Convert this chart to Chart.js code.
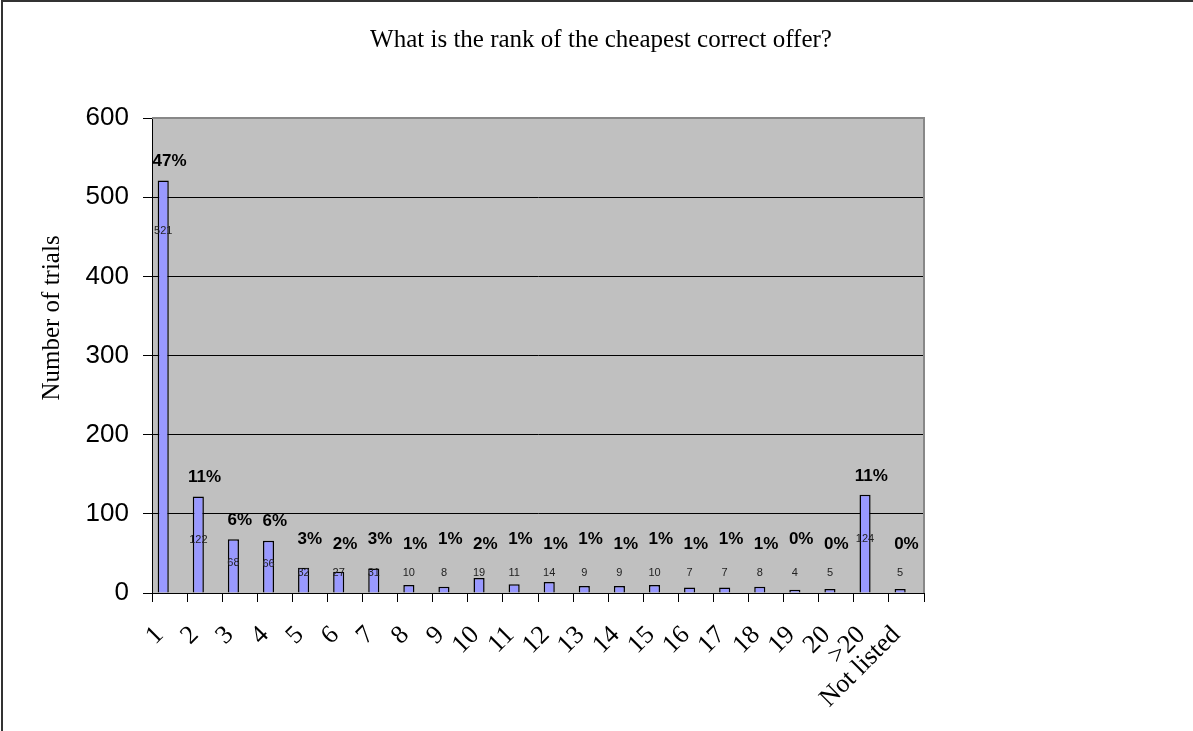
<!DOCTYPE html>
<html lang="en">
<head>
  <meta charset="UTF-8">
  <title>Rank of the cheapest correct offer</title>
  <script src="https://cdn.jsdelivr.net/npm/chart.js"></script>
  <style>
    body {
      margin: 0;
      background: #fff;
    }
    #wrap {
      width: 1193px;
      height: 731px;
    }
  </style>
</head>
<body>

  <div id="wrap"><canvas id="rank-chart" width="1193" height="731"></canvas></div>

  <script>
    const ranks = ['1', '2', '3', '4', '5', '6', '7', '8', '9', '10', '11', '12', '13', '14', '15', '16', '17', '18', '19', '20', '>20', 'Not listed'];
    const trials = [521, 122, 68, 66, 32, 27, 31, 10, 8, 19, 11, 14, 9, 9, 10, 7, 7, 8, 4, 5, 124, 5];
    const shares = [47, 11, 6, 6, 3, 2, 3, 1, 1, 2, 1, 1, 1, 1, 1, 1, 1, 1, 0, 0, 11, 0];
    const yMin = 0, yMax = 600, yStep = 100;
    const chartTitle = 'What is the rank of the cheapest correct offer?';
    const yTitle = 'Number of trials';

    const serif = '"Liberation Serif", "Times New Roman", serif';
    const sans = '"Liberation Sans", Arial, sans-serif';

    // background, frame, titles and the two kinds of data labels
    const decor = {
      id: 'decor',
      beforeDraw(chart) {
        const { ctx, chartArea: a } = chart;
        ctx.save();
        ctx.fillStyle = '#fff';
        ctx.fillRect(0, 0, chart.width, chart.height);
        ctx.fillStyle = '#C0C0C0';
        ctx.fillRect(a.left, a.top, a.right - a.left, a.bottom - a.top);
        ctx.restore();
      },
      afterDatasetsDraw(chart) {
        const { ctx } = chart;
        const meta = chart.getDatasetMeta(0);
        const x = chart.scales.x;
        ctx.save();
        ctx.textAlign = 'center';
        ctx.textBaseline = 'middle';
        meta.data.forEach((el, i) => {
          const h = el.base - el.y;
          const vy = Math.min(el.y + Math.min(0.45 * h, 50), el.base - 20);
          ctx.font = '11px ' + sans;
          ctx.fillStyle = '#222';
          ctx.fillText(String(trials[i]), el.x, vy);

          const py = Math.min(el.y - 19, el.base - (i % 2 ? 48 : 53));
          ctx.font = 'bold 17px ' + sans;
          ctx.fillStyle = '#000';
          ctx.fillText(shares[i] + '%', x.getPixelForValue(i), py);
        });
        ctx.restore();
      },
      afterDraw(chart) {
        const { ctx, chartArea: a } = chart;
        ctx.save();
        ctx.strokeStyle = '#888';
        ctx.lineWidth = 2;
        ctx.beginPath();
        ctx.moveTo(a.left, a.top);
        ctx.lineTo(a.right, a.top);
        ctx.lineTo(a.right, a.bottom);
        ctx.stroke();

        ctx.strokeStyle = '#333';
        ctx.beginPath();
        ctx.moveTo(2, chart.height);
        ctx.lineTo(2, 1);
        ctx.lineTo(chart.width, 1);
        ctx.stroke();

        ctx.fillStyle = '#000';
        ctx.textAlign = 'center';
        ctx.textBaseline = 'middle';
        ctx.font = '25px ' + serif;
        ctx.fillText(chartTitle, 601, 40);

        ctx.translate(52, 318);
        ctx.rotate(-Math.PI / 2);
        ctx.fillText(yTitle, 0, 0);
        ctx.restore();
      }
    };

    new Chart(document.getElementById('rank-chart').getContext('2d'), {
      type: 'bar',
      data: {
        labels: ranks,
        datasets: [{
          label: 'Trials',
          data: trials,
          backgroundColor: '#9999FF',
          borderColor: '#000',
          borderWidth: 1.5,
          categoryPercentage: 0.72,
          barPercentage: 0.88
        }, {
          label: 'Share',
          data: shares,
          backgroundColor: 'rgba(0,0,0,0)',
          borderWidth: 0,
          categoryPercentage: 0.72,
          barPercentage: 0.88
        }]
      },
      options: {
        responsive: false,
        animation: false,
        devicePixelRatio: 1,
        layout: {
          padding: { left: 0, top: 118, right: 269, bottom: 0 }
        },
        plugins: {
          legend: { display: false },
          tooltip: { enabled: false },
          title: { display: false }
        },
        scales: {
          x: {
            afterFit(scale) { scale.height = 138; },
            grid: {
              drawOnChartArea: false,
              color: '#000',
              tickLength: 9
            },
            border: { color: '#000', width: 1 },
            ticks: {
              color: '#000',
              font: { family: serif, size: 26 },
              minRotation: 45,
              maxRotation: 45,
              autoSkip: false,
              padding: 18,
              labelOffset: -10
            }
          },
          y: {
            min: yMin,
            max: yMax,
            afterFit(scale) { scale.width = 152; },
            grid: {
              color: ctx => (ctx.tick && ctx.tick.value === yMax) ? '#888' : '#000',
              tickColor: '#000',
              tickLength: 9
            },
            border: { color: '#000', width: 1 },
            ticks: {
              stepSize: yStep,
              color: '#000',
              font: { family: sans, size: 26 },
              padding: 14
            }
          }
        }
      },
      plugins: [decor]
    });
  </script>

</body>
</html>
